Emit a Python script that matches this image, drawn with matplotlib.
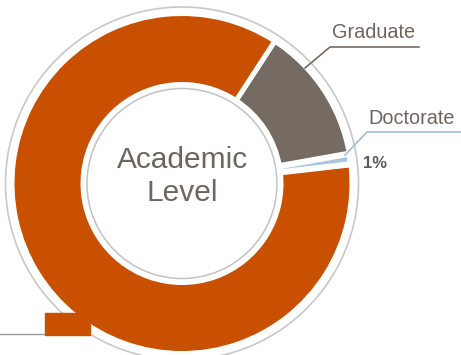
import matplotlib.pyplot as plt
from matplotlib.patches import Circle, Rectangle

# Nivel académico - gráfico de dona
niveles = ['Doctorate', 'Graduate', 'Undergraduate']
porcentajes = [1, 13, 86]
colores = ['#a9c6dc', '#766b63', '#c85000']

W, H = 461, 355
cx, cy = 182, 171.5
R = 170

plt.rcParams['font.family'] = ['Liberation Sans', 'DejaVu Sans']

fig = plt.figure(figsize=(W / 100, H / 100), dpi=100)
ax = fig.add_axes([0, 0, 1, 1])

wedges, _ = ax.pie(porcentajes, colors=colores, startangle=6.5, counterclock=True,
                   radius=R, center=(cx, cy),
                   wedgeprops=dict(width=71, edgecolor='white', linewidth=3.6))
# el sector pequeño queda como una línea fina entre los otros dos
wedges[0].set_linewidth(4.4)
wedges[0].set_zorder(3)

# aros grises finos
ax.add_patch(Circle((cx, cy), 176.5, fill=False, ec='#c8c8c8', lw=1.2))
ax.add_patch(Circle((cx, cy), 95, fill=False, ec='#c2c2c2', lw=1.1))

ax.text(cx, H - 160, 'Academic', ha='center', va='center',
        fontsize=21.5, color='#6f6560')
ax.text(cx, H - 193, 'Level', ha='center', va='center',
        fontsize=21.5, color='#6f6560')

# etiqueta Graduate
ax.plot([305, 330, 419], [H - 68, H - 47, H - 47], color='#766b63', lw=1.2)
ax.text(374, H - 33, niveles[1], ha='center', va='center',
        fontsize=14.3, color='#6f6560')

# etiqueta Doctorate
ax.plot([345, 367, 461], [H - 155, H - 132, H - 132], color='#9fc0d8', lw=1.2,
        zorder=4)
ax.text(412, H - 118, niveles[0], ha='center', va='center',
        fontsize=14.3, color='#6f6560')
ax.text(375, H - 163, f'{porcentajes[0]}%', ha='center', va='center',
        fontsize=12, fontweight='bold', color='#5a5a5a')

# caja de etiqueta del sector mayor (recortada)
ax.plot([0, 45], [H - 334, H - 334], color='#9a9a9a', lw=1)
ax.add_patch(Rectangle((45, H - 335), 45, 22, color=colores[2], zorder=5))

ax.set_xlim(0, W)
ax.set_ylim(0, H)
ax.set_aspect('equal')
ax.axis('off')

plt.savefig('out.png', dpi=100)
